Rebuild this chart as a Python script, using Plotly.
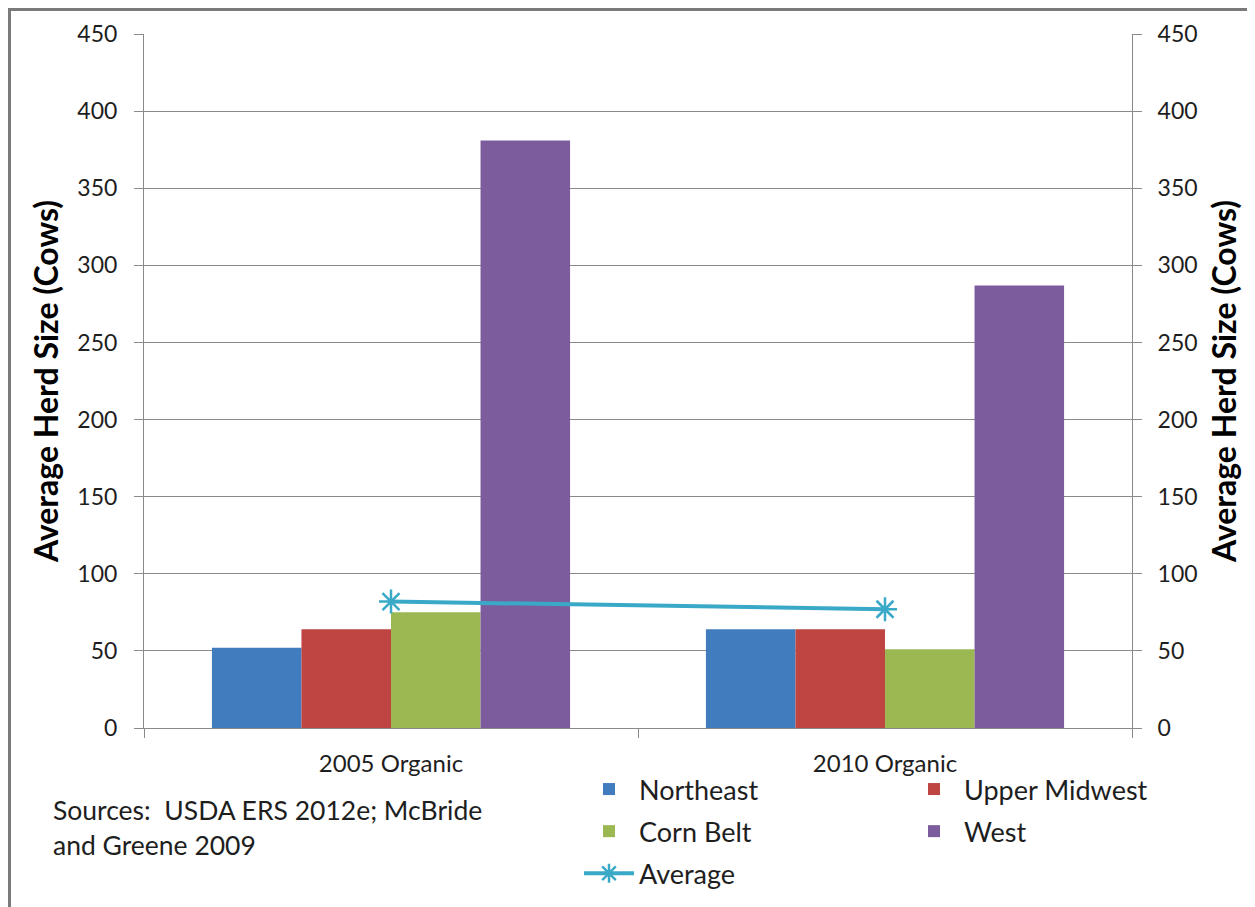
import plotly.graph_objects as go

# ---- data ----
categories = ["2005 Organic", "2010 Organic"]
northeast = [52, 64]
upper_midwest = [64, 64]
corn_belt = [75, 51]
west = [381, 287]
average = [82, 77]
series_names = ["Northeast", "Upper Midwest", "Corn Belt", "West"]
y_ticks = [0, 50, 100, 150, 200, 250, 300, 350, 400, 450]
source_lines = ["Sources:  USDA ERS 2012e; McBride", "and Greene 2009"]
axis_title = "Average Herd Size (Cows)"

# ---- geometry (page pixels; the page body adds an 8px offset) ----
OX, OY = 8, 8
W, H = 1247, 899
PL, PR, PT, PB = 144, 1132, 34, 728          # plot area in page pixels
ML, MT = PL - OX, PT - OY
MR, MB = W - (PR - OX), H - (PB - OY)
PW, PH = PR - PL, PB - PT

FONT = "Lato, 'Open Sans', sans-serif"
GRAY = "#8a8a8a"
TXT = "#1e1e1e"
colors = ["#417CBE", "#BE4541", "#9BB853", "#7D5C9E"]
legends = ["legend", "legend2", "legend", "legend2"]
avg_color = "#3AA9C7"


def xp(px):
    """page x pixel -> paper coordinate"""
    return (px - PL) / PW


def yp(py):
    """page y pixel -> paper coordinate"""
    return (PB - py) / PH


fig = go.Figure()
for name, vals, col, leg in zip(series_names, [northeast, upper_midwest, corn_belt, west], colors, legends):
    fig.add_trace(go.Bar(
        x=categories, y=vals, name=name, legend=leg, legendgroup=name,
        marker=dict(color=col, line=dict(width=0)),
    ))

fig.add_trace(go.Scatter(
    x=categories, y=average, name="Average", mode="lines+markers", yaxis="y2",
    legend="legend", legendgroup="Average",
    line=dict(color=avg_color, width=4),
    marker=dict(symbol="asterisk-open", size=20, color=avg_color,
                line=dict(width=2.5, color=avg_color)),
))

axis_common = dict(
    range=[0, 450], tickvals=y_ticks, ticks="outside", ticklen=9, tickcolor=GRAY,
    showline=True, linecolor=GRAY, linewidth=1, zeroline=False,
    tickfont=dict(size=23, color=TXT, family=FONT),
)
title_font = dict(size=32, color="black", family=FONT)
legend_font = dict(size=27, color=TXT, family=FONT)

fig.update_layout(
    width=W, height=H,
    margin=dict(l=ML, r=MR, t=MT, b=MB, autoexpand=False),
    paper_bgcolor="white", plot_bgcolor="white",
    barmode="group", bargap=0.275, bargroupgap=0,
    font=dict(family=FONT, size=23, color=TXT),
    xaxis=dict(type="category", tickson="boundaries", ticks="outside", ticklen=9,
               tickcolor=GRAY, showline=True, linecolor=GRAY, linewidth=1,
               showgrid=False, ticklabelstandoff=14,
               tickfont=dict(size=24, color=TXT, family=FONT)),
    yaxis=dict(**axis_common, showgrid=True, gridcolor=GRAY, gridwidth=1,
               ticklabelstandoff=12,
               title=dict(text="<b>" + axis_title + "</b>", standoff=9, font=title_font)),
    yaxis2=dict(**axis_common, overlaying="y", side="right", showgrid=False,
                ticklabelstandoff=11,
                title=dict(text="<b>" + axis_title + "</b>", standoff=16, font=title_font)),
    legend=dict(x=xp(579), y=yp(765), xanchor="left", yanchor="top",
                orientation="v", tracegroupgap=4, itemwidth=50,
                bgcolor="rgba(0,0,0,0)", font=legend_font),
    legend2=dict(x=xp(904), y=yp(765), xanchor="left", yanchor="top",
                 orientation="v", tracegroupgap=4, itemwidth=50,
                 bgcolor="rgba(0,0,0,0)", font=legend_font),
    showlegend=True,
    shapes=[
        dict(type="line", xref="paper", yref="paper", x0=xp(OX + 1.5), x1=xp(OX + 1.5),
             y0=yp(OY), y1=yp(OY + H), line=dict(color="#7a7a7a", width=3)),
        dict(type="line", xref="paper", yref="paper", x0=xp(OX), x1=xp(OX + W),
             y0=yp(OY + 1.5), y1=yp(OY + 1.5), line=dict(color="#7a7a7a", width=3)),
    ],
    annotations=[
        dict(text=source_lines[0], xref="paper", yref="paper", x=xp(51), y=yp(810),
             xanchor="left", yanchor="middle", showarrow=False,
             font=dict(size=26.5, color=TXT, family=FONT)),
        dict(text=source_lines[1], xref="paper", yref="paper", x=xp(51), y=yp(845),
             xanchor="left", yanchor="middle", showarrow=False,
             font=dict(size=26.5, color=TXT, family=FONT)),
    ],
)

fig.write_html("out.html")
